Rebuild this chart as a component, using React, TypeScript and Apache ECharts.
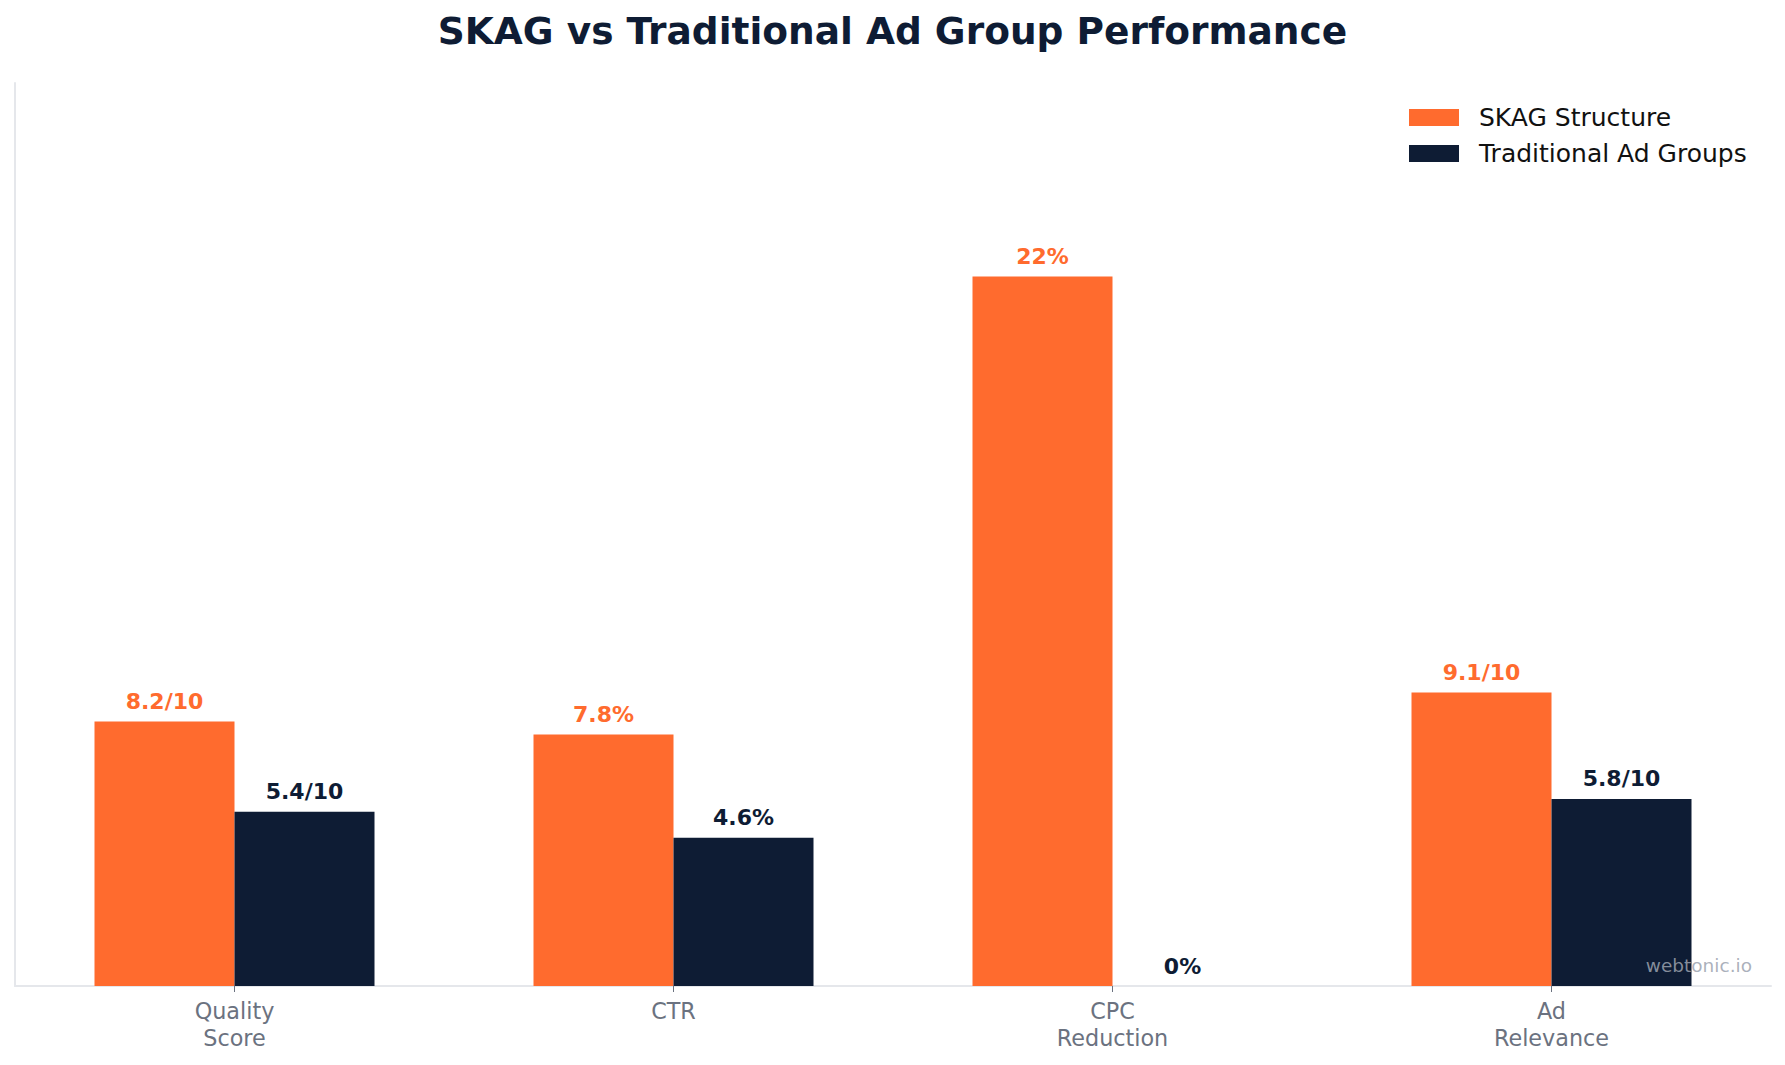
import React, { useEffect, useRef } from "react";
import * as echarts from "echarts";

const categories = ["Quality\nScore", "CTR", "CPC\nReduction", "Ad\nRelevance"];
const seriesNames = ["SKAG Structure", "Traditional Ad Groups"];
const skagValues = [8.2, 7.8, 22, 9.1];
const tradValues = [5.4, 4.6, 0, 5.8];
const skagLabels = ["8.2/10", "7.8%", "22%", "9.1/10"];
const tradLabels = ["5.4/10", "4.6%", "0%", "5.8/10"];
const titleText = "SKAG vs Traditional Ad Group Performance";
const watermarkText = "webtonic.io";

const ORANGE = "#ff6b2e";
const NAVY = "#0e1c34";
const FONT = "'DejaVu Sans', 'Noto Sans', sans-serif";

export default function App() {
  const ref = useRef<HTMLDivElement | null>(null);

  useEffect(() => {
    if (!ref.current) return;
    const chart = echarts.init(ref.current, undefined, { renderer: "svg" });
    const labelStyle = (texts: string[], color: string) => ({
      show: true,
      position: "top",
      distance: 9,
      color,
      fontFamily: FONT,
      fontWeight: "bold",
      fontSize: 22,
      formatter: (p: any) => texts[p.dataIndex],
    });
    chart.setOption({
      animation: false,
      backgroundColor: "#ffffff",
      title: {
        text: titleText,
        left: "center",
        top: 7,
        textStyle: {
          color: NAVY,
          fontFamily: FONT,
          fontWeight: "bold",
          fontSize: 37.5,
        },
      },
      legend: {
        orient: "vertical",
        left: 1409,
        top: 105,
        padding: 0,
        itemGap: 11,
        itemWidth: 50,
        itemHeight: 17,
        icon: "rect",
        data: seriesNames,
        textStyle: {
          color: "#111111",
          fontFamily: FONT,
          fontSize: 25,
          lineHeight: 25,
          padding: [0, 0, 0, 15],
        },
      },
      grid: {
        left: 15,
        right: 14,
        top: 83,
        bottom: 79,
        containLabel: false,
      },
      xAxis: {
        type: "category",
        data: categories,
        boundaryGap: true,
        axisLine: { show: true, lineStyle: { color: "#e5e7eb", width: 2 } },
        axisTick: {
          show: true,
          alignWithLabel: true,
          length: 6,
          lineStyle: { color: "#6b7280", width: 1 },
        },
        axisLabel: {
          color: "#6b7280",
          fontFamily: FONT,
          fontSize: 22.3,
          lineHeight: 27,
          margin: 11,
        },
        splitLine: { show: false },
      },
      yAxis: {
        type: "value",
        min: 0,
        max: 28,
        axisLine: { show: true, lineStyle: { color: "#e5e7eb", width: 2 } },
        axisTick: { show: false },
        axisLabel: { show: false },
        splitLine: { show: false },
      },
      series: [
        {
          name: seriesNames[0],
          type: "bar",
          data: skagValues,
          barWidth: 140,
          barGap: "0%",
          itemStyle: { color: ORANGE },
          label: labelStyle(skagLabels, ORANGE),
        },
        {
          name: seriesNames[1],
          type: "bar",
          data: tradValues,
          barWidth: 140,
          barGap: "0%",
          itemStyle: { color: NAVY },
          label: labelStyle(tradLabels, NAVY),
        },
      ],
      graphic: [
        {
          type: "text",
          right: 33,
          top: 956,
          z: 100,
          style: {
            text: watermarkText,
            fill: "#9ca3af",
            opacity: 0.85,
            fontFamily: FONT,
            fontSize: 18.5,
          },
        },
      ],
    });
    return () => chart.dispose();
  }, []);

  return (
    <div
      ref={ref}
      style={{ position: "fixed", left: 0, top: 0, width: 1785, height: 1065 }}
    />
  );
}
